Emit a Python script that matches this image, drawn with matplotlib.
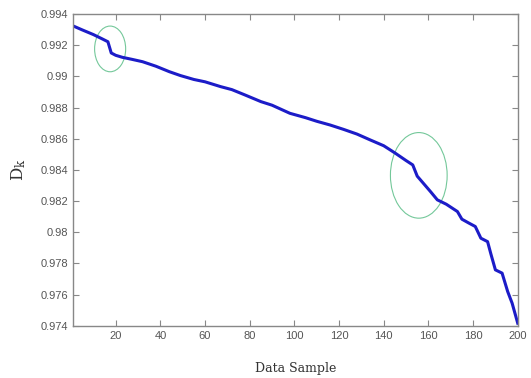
import numpy as np
import matplotlib
matplotlib.use('Agg')
import matplotlib.pyplot as plt
import matplotlib.patches as patches
from matplotlib.ticker import FormatStrFormatter

plt.rcParams['mathtext.fontset'] = 'dejavuserif'

# values
sample = [1, 5, 10, 14, 16.5, 18, 20, 23, 27, 32, 38, 44, 49, 55, 60, 67, 72, 78,
          85, 90, 98, 105, 110, 116, 122, 128, 134, 140, 145, 150, 153, 155, 158,
          161, 164, 168, 173, 175, 178, 181, 183.5, 186.5, 188, 190, 193, 195.5,
          197.5, 200]
dk = [0.99323, 0.99298, 0.99268, 0.99240, 0.99222, 0.99150, 0.99135, 0.99122,
      0.99110, 0.99094, 0.99065, 0.99030, 0.99005, 0.98980, 0.98965, 0.98934,
      0.98915, 0.98880, 0.98838, 0.98815, 0.98763, 0.98735, 0.98712, 0.98688,
      0.98660, 0.98630, 0.98592, 0.98555, 0.98509, 0.98460, 0.98432, 0.98360,
      0.98310, 0.98260, 0.98208, 0.98180, 0.98133, 0.98084, 0.98060, 0.98037,
      0.97962, 0.97940, 0.97860, 0.97759, 0.97738, 0.97620, 0.97545, 0.97417]

# highlighted regions: (x centre, y centre, width, height)
marks = [(17.5, 0.99176, 13.9, 0.00293),
         (155.7, 0.98365, 25.4, 0.00549)]

xticks = list(range(20, 201, 20))
yticks = np.arange(0.974, 0.9941, 0.002)

fig = plt.figure(figsize=(5.31, 3.78), dpi=100)
ax = fig.add_axes([0.138, 0.138, 0.837, 0.825])

ax.plot(sample, dk, color='#1c1cc8', lw=2.2)

for cx, cy, w, h in marks:
    ax.add_patch(patches.Ellipse((cx, cy), w, h, fill=False,
                                 edgecolor='#74c89a', lw=0.8))

ax.set_xlim(1, 200)
ax.set_ylim(0.974, 0.994)
ax.set_xticks(xticks)
ax.set_yticks(yticks)
ax.yaxis.set_major_formatter(FormatStrFormatter('%g'))
ax.tick_params(direction='in', top=True, right=True, length=4, width=0.8,
               color='#888888', labelcolor='#555555', labelsize=8)
for lab in ax.get_xticklabels() + ax.get_yticklabels():
    lab.set_family('Liberation Sans')
for s in ax.spines.values():
    s.set_color('#888888')
    s.set_linewidth(1.0)

ax.set_xlabel('Data Sample', family='DejaVu Serif', fontsize=9, color='#333333',
              labelpad=15)
ax.set_ylabel(r'D$_\mathrm{k}$', family='DejaVu Serif', fontsize=12,
              color='#333333', labelpad=9)

fig.savefig('out.png', dpi=100)
